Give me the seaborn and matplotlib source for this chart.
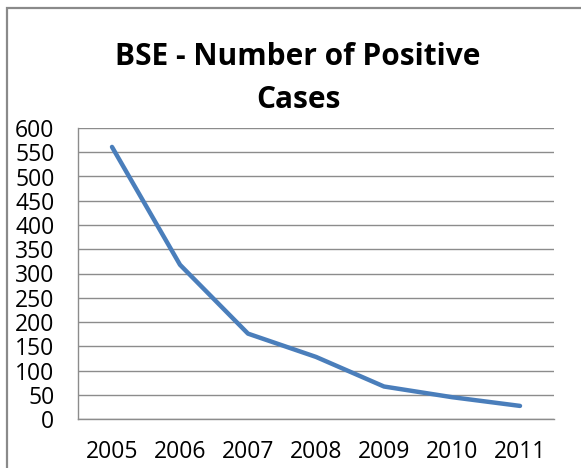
import matplotlib
matplotlib.use("Agg")
import matplotlib.pyplot as plt
import seaborn as sns
import pandas as pd
from matplotlib.patches import Rectangle

# chart values
years = ["2005", "2006", "2007", "2008", "2009", "2010", "2011"]
cases = [561, 318, 176, 128, 67, 45, 27]
y_ticks = list(range(0, 601, 50))

line_blue = "#4A7EBB"
grid_gray = "#8C8C8C"

sns.set_style("white")
plt.rcParams["font.family"] = ["Open Sans", "DejaVu Sans"]

df = pd.DataFrame({"pos": range(len(years)), "year": years, "cases": cases})

fig = plt.figure(figsize=(5.81, 4.68), dpi=100)

# outer chart frame (only left and top edges fall inside the picture)
frame = Rectangle((7 / 581, -0.1), 1.2, (468 - 8) / 468 + 0.1, transform=fig.transFigure,
                  fill=False, edgecolor="#8A8A8A", linewidth=1.6)
fig.patches.append(frame)

ax = fig.add_axes([78 / 581, 1 - 419 / 468, (554 - 78) / 581, (419 - 128) / 468])

sns.lineplot(data=df, x="pos", y="cases", color=line_blue, linewidth=3.2, ax=ax)

ax.set_xlim(-0.5, len(years) - 0.5)
ax.set_ylim(0, 600)
ax.set_yticks(y_ticks)
ax.set_yticklabels([str(v) for v in y_ticks], fontsize=16.5, color="#000000")
ax.set_xticks(range(len(years)))
ax.set_xticklabels(years, fontsize=16.5, color="#000000")
ax.set_xticks([i + 0.5 for i in range(len(years))], minor=True)
ax.tick_params(axis="x", which="major", length=0, pad=15)
ax.tick_params(axis="x", which="minor", length=6, color=grid_gray, width=1, direction="out")
ax.tick_params(axis="y", which="major", length=7, color=grid_gray, width=1, pad=10, direction="out")
ax.set_xlabel("")
ax.set_ylabel("")

ax.grid(axis="y", color=grid_gray, linewidth=1)
ax.grid(axis="x", visible=False)
for side in ["top", "right"]:
    ax.spines[side].set_visible(False)
for side in ["left", "bottom"]:
    ax.spines[side].set_color(grid_gray)
    ax.spines[side].set_linewidth(1)

fig.text(298 / 581, 1 - 57 / 468, "BSE - Number of Positive", ha="center", va="center",
         fontsize=21.5, fontweight="bold", color="#000000")
fig.text(298 / 581, 1 - 100 / 468, "Cases", ha="center", va="center",
         fontsize=21.5, fontweight="bold", color="#000000")

fig.savefig("out.png", dpi=100)
